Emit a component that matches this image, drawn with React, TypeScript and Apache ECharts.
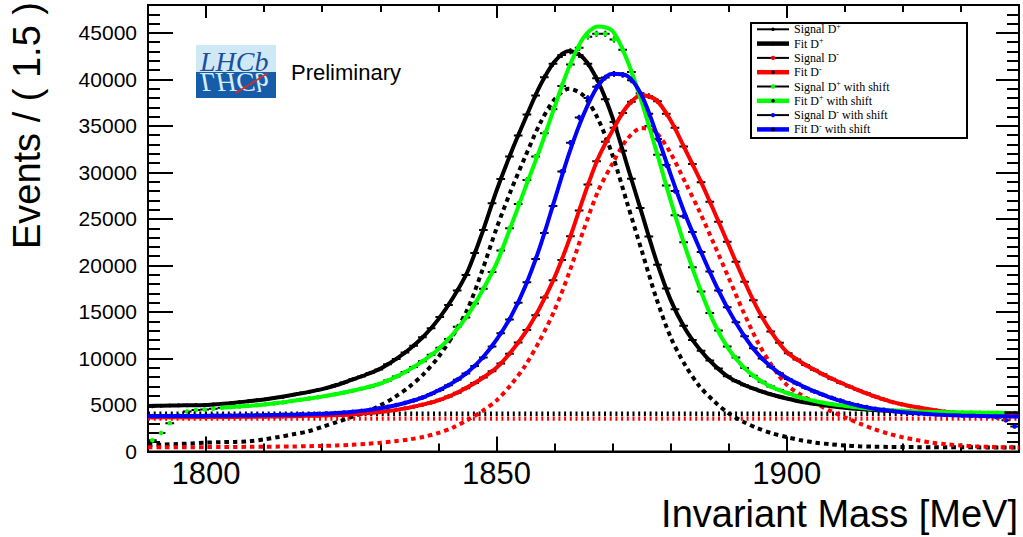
import React, { useEffect, useRef } from 'react';
import * as echarts from 'echarts';

// ---- axis ranges / ticks ----
const massMin = 1790;
const massMax = 1940;
const binWidth = 1.5;
const yMin = 0;
const yMax = 48000;
const xMajorTicks = [1800, 1850, 1900];
const xMinorTicks = [1790, 1800, 1810, 1820, 1830, 1840, 1850, 1860, 1870, 1880, 1890, 1900, 1910, 1920, 1930, 1940];
const yMajorTicks = [0, 5000, 10000, 15000, 20000, 25000, 30000, 35000, 40000, 45000];
const yMinorTicks = Array.from({ length: 49 }, (_, i) => i * 1000);

// ---- fit curves (sampled every 2.5 MeV) ----
const fitMass = [1790, 1792.5, 1795, 1797.5, 1800, 1802.5, 1805, 1807.5, 1810, 1812.5, 1815, 1817.5, 1820, 1822.5, 1825, 1827.5, 1830, 1832.5, 1835, 1837.5, 1840, 1842.5, 1845, 1847.5, 1850, 1852.5, 1855, 1857.5, 1860, 1862.5, 1865, 1867.5, 1870, 1872.5, 1875, 1877.5, 1880, 1882.5, 1885, 1887.5, 1890, 1892.5, 1895, 1897.5, 1900, 1902.5, 1905, 1907.5, 1910, 1912.5, 1915, 1917.5, 1920, 1922.5, 1925, 1927.5, 1930, 1932.5, 1935, 1937.5, 1940];
const fitDplus = [4900, 4920, 4950, 4980, 5000, 5120, 5250, 5420, 5600, 5830, 6100, 6380, 6700, 7150, 7700, 8250, 8900, 9850, 11000, 12400, 14200, 16500, 19300, 23400, 28000, 32100, 35800, 39300, 41900, 43050, 42300, 39800, 35900, 30800, 25700, 20600, 16300, 13200, 11000, 9300, 8000, 7200, 6600, 6100, 5700, 5350, 5100, 4880, 4700, 4560, 4450, 4370, 4300, 4250, 4200, 4170, 4150, 4130, 4120, 4110, 4100];
const sigDplus = [700, 740, 800, 870, 950, 1000, 1030, 1100, 1300, 1560, 1850, 2150, 2650, 3150, 3700, 4250, 4950, 5850, 6950, 8350, 10150, 12450, 15250, 19350, 23950, 28050, 31750, 35250, 37850, 39000, 38250, 35750, 31850, 26750, 21650, 16550, 12300, 9300, 7000, 5400, 4100, 3200, 2500, 1950, 1550, 1200, 950, 780, 650, 560, 520, 490, 480, 470, 460, 455, 450, 445, 440, 435, 430];
const fitDminus = [3680, 3685, 3690, 3695, 3700, 3710, 3720, 3735, 3750, 3770, 3800, 3830, 3870, 3920, 3990, 4100, 4250, 4450, 4720, 5060, 5500, 6100, 6900, 7850, 9000, 10700, 12800, 15500, 18700, 22700, 27300, 31500, 34500, 37100, 38300, 37800, 35600, 32500, 29300, 25800, 22200, 18600, 15300, 12700, 10700, 9600, 8700, 7900, 7200, 6550, 5950, 5450, 5050, 4750, 4480, 4260, 4100, 3990, 3920, 3860, 3820];
const sigDminus = [450, 455, 460, 465, 470, 480, 490, 500, 510, 525, 540, 565, 600, 650, 720, 820, 950, 1100, 1300, 1580, 1990, 2570, 3370, 4320, 5470, 7170, 9270, 11970, 15170, 19170, 23770, 27970, 30970, 33570, 34770, 34270, 32070, 28970, 25770, 22270, 18670, 15070, 11770, 9170, 7170, 6070, 5170, 4370, 3670, 3020, 2420, 1920, 1520, 1220, 950, 780, 650, 560, 500, 460, 440];
const fitDplusShift = [null, null, null, null, null, 4700, 4800, 4920, 5050, 5230, 5450, 5660, 5900, 6180, 6500, 6870, 7300, 7950, 8800, 9800, 11000, 12600, 14600, 17200, 20200, 24200, 28400, 32500, 37000, 41300, 44500, 45700, 45200, 42100, 37600, 32400, 27000, 22000, 17600, 13800, 11000, 9100, 7800, 6900, 6300, 5800, 5400, 5100, 4900, 4700, 4560, 4450, 4370, 4300, 4250, 4220, 4200, 4180, 4160, 4150, null];
const fitDminusShift = [3800, 3805, 3810, 3820, 3830, 3845, 3860, 3880, 3900, 3930, 3960, 4000, 4060, 4140, 4250, 4420, 4650, 4950, 5350, 5850, 6550, 7400, 8500, 10000, 12000, 14500, 17800, 22000, 27000, 32000, 36200, 39300, 40600, 40400, 38300, 34300, 29800, 25500, 21800, 18300, 15200, 12600, 10500, 9000, 7900, 7100, 6400, 5800, 5300, 4900, 4600, 4400, 4230, 4100, 4000, 3930, 3870, 3830, 3800, 3780, 3760];
const bkgDplus = 4060;
const bkgDminus = 3530;

// ---- binned data (100 bins of 1.5 MeV) ----
const dataDplus = [4850, 4930, 4940, 4960, 4950, 4990, 5010, 5050, 5140, 5200, 5310, 5390, 5520, 5610, 5770, 5870, 6060, 6250, 6400, 6620, 6820, 7110, 7410, 7760, 8070, 8450, 8820, 9380, 9940, 10650, 11380, 12270, 13250, 14450, 15760, 17320, 18980, 21330, 23820, 26680, 29300, 31720, 33980, 36230, 38280, 40220, 41680, 42620, 43030, 42620, 41680, 40120, 37880, 35420, 32330, 29320, 26180, 23120, 20080, 17520, 15280, 13520, 11980, 10820, 9790, 8910, 8090, 7560, 7120, 6770, 6440, 6160, 5890, 5670, 5440, 5280, 5110, 5000, 4850, 4760, 4650, 4580, 4490, 4450, 4380, 4360, 4290, 4280, 4240, 4220, 4180, 4180, 4150, 4160, 4130, 4130, 4110, 4120, 4100, 4090];
const dataDminus = [3680, 3685, 3688, 3690, 3693, 3697, 3700, 3705, 3710, 3717, 3724, 3733, 3742, 3752, 3764, 3776, 3797, 3815, 3834, 3856, 3882, 3915, 3952, 3998, 4065, 4140, 4235, 4345, 4470, 4630, 4815, 5025, 5270, 5555, 5910, 6320, 6800, 7370, 7960, 8640, 9470, 10520, 11720, 13050, 14650, 16550, 18400, 20600, 23150, 25900, 28700, 31200, 33300, 34800, 36400, 37600, 38250, 38200, 37650, 36300, 34800, 32800, 30900, 28950, 26850, 24700, 22550, 20400, 18250, 16250, 14450, 12900, 11700, 10550, 9900, 9300, 8780, 8300, 7830, 7400, 7000, 6620, 6250, 5900, 5600, 5300, 5080, 4870, 4720, 4560, 4420, 4290, 4180, 4090, 4020, 3970, 3925, 3890, 3855, 3830];
const dataDplusShift = [1200, 2000, 3050, 3900, 4300, 4450, 4520, 4600, 4700, 4770, 4840, 4910, 4990, 5070, 5170, 5280, 5430, 5550, 5690, 5830, 5980, 6150, 6340, 6530, 6750, 6950, 7250, 7620, 8050, 8550, 9080, 9700, 10400, 11150, 12100, 13400, 14400, 15900, 17500, 19300, 21600, 24000, 26600, 29200, 31700, 34200, 36800, 39300, 41600, 43400, 44600, 44900, 44900, 44300, 43200, 40800, 38100, 35000, 31900, 28600, 25400, 22500, 19800, 17200, 14900, 13000, 11300, 10100, 8980, 8150, 7500, 7000, 6600, 6250, 5950, 5680, 5440, 5240, 5080, 4950, 4840, 4720, 4630, 4550, 4480, 4420, 4380, 4340, 4300, 4270, 4240, 4225, 4210, 4200, 4190, 4175, 4160, 4155, 4150, 4140];
const dataDminusShift = [3800, 3805, 3808, 3810, 3815, 3822, 3830, 3838, 3846, 3856, 3866, 3878, 3890, 3903, 3920, 3940, 3958, 3985, 4015, 4050, 4085, 4130, 4190, 4265, 4360, 4475, 4620, 4790, 4990, 5220, 5490, 5800, 6180, 6620, 7130, 7720, 8380, 9180, 10100, 11300, 12700, 14200, 16000, 18200, 20700, 23500, 26400, 30100, 33200, 35900, 38000, 39200, 40200, 40600, 40500, 39900, 38500, 36300, 33600, 30800, 28000, 25300, 23600, 21450, 19350, 17300, 15500, 13900, 12400, 11100, 10000, 9100, 8400, 7800, 7300, 6850, 6450, 6100, 5780, 5480, 5200, 4970, 4780, 4600, 4480, 4360, 4260, 4170, 4100, 4040, 3990, 3950, 3910, 3870, 3840, 3810, 3780, 3650, 3350, 2700];

// ---- legend ----
const legendRows = [
  { text: '{n|Signal D}{s|+}', line: '#000000', lw: 2, dot: '#000000', r: 1.8 },
  { text: '{n|Fit D}{s|+}', line: '#000000', lw: 4.5, dot: '#000000', r: 1.8 },
  { text: '{n|Signal D}{s|-}', line: '#000000', lw: 2, dot: '#ff0000', r: 2.2 },
  { text: '{n|Fit D}{s|-}', line: '#ff0000', lw: 4.5, dot: '#000000', r: 1.8 },
  { text: '{n|Signal D}{s|+}{n| with shift}', line: '#000000', lw: 2, dot: '#00ff00', r: 2.2 },
  { text: '{n|Fit D}{s|+}{n| with shift}', line: '#00ff00', lw: 4.5, dot: '#000000', r: 1.8 },
  { text: '{n|Signal D}{s|-}{n| with shift}', line: '#000000', lw: 2, dot: '#0000ff', r: 2.2 },
  { text: '{n|Fit D}{s|-}{n| with shift}', line: '#0000ff', lw: 4.5, dot: '#000000', r: 1.8 },
];

const SANS = '"Liberation Sans", Arial, Helvetica, sans-serif';
const SERIF = '"Liberation Serif", "Times New Roman", serif';

function xAxisCfg(position: string, ticks: number[], len: number, labels: boolean) {
  return {
    type: 'value', min: massMin, max: massMax, position, gridIndex: 0,
    axisLine: { show: true, onZero: false, lineStyle: { color: '#000', width: 2 } },
    axisTick: { show: true, inside: true, length: len, customValues: ticks, lineStyle: { color: '#000', width: 2 } },
    axisLabel: labels
      ? { show: true, customValues: xMajorTicks, fontSize: 31, fontFamily: SANS, color: '#000', margin: 6, formatter: (v: number) => String(v) }
      : { show: false },
    splitLine: { show: false },
  };
}

function yAxisCfg(position: string, ticks: number[], len: number, labels: boolean) {
  return {
    type: 'value', min: yMin, max: yMax, position, gridIndex: 0,
    axisLine: { show: true, onZero: false, lineStyle: { color: '#000', width: 2 } },
    axisTick: { show: true, inside: true, length: len, customValues: ticks, lineStyle: { color: '#000', width: 2 } },
    axisLabel: labels
      ? { show: true, customValues: yMajorTicks, fontSize: 21, fontFamily: SANS, color: '#000', margin: 11, formatter: (v: number) => String(v) }
      : { show: false },
    splitLine: { show: false },
  };
}

function lineSeries(name: string, ys: (number | null)[], color: string, width: number, type: any) {
  return {
    type: 'line', name, xAxisIndex: 0, yAxisIndex: 0,
    data: fitMass.map((m, i) => [m, ys[i]]),
    showSymbol: false, symbol: 'none', smooth: 0.3, connectNulls: false, silent: true, clip: true,
    lineStyle: { color, width, type },
  };
}

function flatSeries(name: string, level: number, color: string) {
  return {
    type: 'line', name, xAxisIndex: 0, yAxisIndex: 0,
    data: [[massMin, level], [massMax, level]],
    showSymbol: false, symbol: 'none', silent: true,
    lineStyle: { color, width: 4.3, type: [2, 3.7] },
  };
}

function pointsSeries(name: string, values: number[], dot: string, r: number) {
  return {
    type: 'custom', name, xAxisIndex: 0, yAxisIndex: 0, clip: true, silent: true,
    data: values.map((v, i) => [massMin + (i + 0.5) * binWidth, v]),
    encode: { x: 0, y: 1 },
    renderItem: (_params: any, api: any) => {
      const x = api.value(0);
      const y = api.value(1);
      const c = api.coord([x, y]);
      const l = api.coord([x - binWidth / 2, y]);
      const rr = api.coord([x + binWidth / 2, y]);
      const e = Math.sqrt(Math.max(y, 0));
      const t = api.coord([x, y + e]);
      const b = api.coord([x, y - e]);
      return {
        type: 'group',
        children: [
          { type: 'line', shape: { x1: l[0], y1: l[1], x2: rr[0], y2: rr[1] }, style: { stroke: '#000', lineWidth: 2 } },
          { type: 'line', shape: { x1: t[0], y1: t[1] - 1, x2: b[0], y2: b[1] + 1 }, style: { stroke: '#000', lineWidth: 2 } },
          { type: 'circle', shape: { cx: c[0], cy: c[1], r }, style: { fill: dot } },
        ],
      };
    },
  };
}

function buildOption() {
  const legendEls: any[] = [
    { type: 'rect', shape: { x: 751, y: 23, width: 216, height: 115 }, style: { fill: '#fff', stroke: '#000', lineWidth: 2 }, z: 100 },
  ];
  legendRows.forEach((row, i) => {
    const y = 29.3 + i * 14.3;
    legendEls.push(
      { type: 'line', shape: { x1: 757, y1: y, x2: 789, y2: y }, style: { stroke: row.line, lineWidth: row.lw }, z: 101 },
      { type: 'circle', shape: { cx: 773, cy: y, r: row.r }, style: { fill: row.dot }, z: 102 },
      {
        type: 'text', x: 794, y, z: 102,
        style: {
          text: row.text, fill: '#000', verticalAlign: 'middle', textVerticalAlign: 'middle', align: 'left', textAlign: 'left',
          rich: {
            n: { fontSize: 12, fontFamily: SERIF, lineHeight: 14, fill: '#000' },
            s: { fontSize: 8, fontFamily: SERIF, lineHeight: 8, verticalAlign: 'top', fill: '#000' },
          },
        },
      },
    );
  });

  const logoEls: any[] = [
    { type: 'rect', shape: { x: 196, y: 45, width: 80, height: 27 }, style: { fill: '#cfe8f6' }, z: 50 },
    { type: 'rect', shape: { x: 196, y: 72, width: 80, height: 26 }, style: { fill: '#165ca8' }, z: 50 },
    {
      type: 'text', x: 200, y: 61.5, z: 51,
      style: { text: 'LHCb', fontSize: 28, fontStyle: 'italic', fontFamily: SERIF, fill: '#1c4f9c', verticalAlign: 'middle', textVerticalAlign: 'middle' },
    },
    {
      type: 'text', x: 200, y: 82.5, scaleY: -1, z: 51,
      style: { text: 'LHCb', fontSize: 28, fontStyle: 'italic', fontFamily: SERIF, fill: '#d6ebf8', verticalAlign: 'middle', textVerticalAlign: 'middle' },
    },
    { type: 'line', shape: { x1: 236, y1: 93, x2: 268, y2: 73 }, style: { stroke: '#e02828', lineWidth: 1.5 }, z: 52 },
    {
      type: 'text', x: 291, y: 72, z: 51,
      style: { text: 'Preliminary', fontSize: 22, fontFamily: SANS, fill: '#000', verticalAlign: 'middle', textVerticalAlign: 'middle' },
    },
  ];

  const titleEls: any[] = [
    {
      type: 'text', x: 1018, y: 514,
      style: { text: 'Invariant Mass [MeV]', fontSize: 38, fontFamily: SANS, fill: '#000', align: 'right', textAlign: 'right', verticalAlign: 'middle', textVerticalAlign: 'middle' },
    },
    {
      type: 'text', x: 27, y: 2, rotation: Math.PI / 2,
      style: { text: 'Events / ( 1.5 )', fontSize: 38, fontFamily: SANS, fill: '#000', align: 'right', textAlign: 'right', verticalAlign: 'middle', textVerticalAlign: 'middle' },
    },
  ];

  return {
    animation: false,
    backgroundColor: '#ffffff',
    grid: { left: 148, right: 4, top: 5, bottom: 85.5, show: true, borderColor: '#000', borderWidth: 2, backgroundColor: 'transparent' },
    xAxis: [
      xAxisCfg('bottom', xMajorTicks, 15, true),
      xAxisCfg('bottom', xMinorTicks, 8, false),
      xAxisCfg('top', xMajorTicks, 13, false),
      xAxisCfg('top', xMinorTicks, 7, false),
    ],
    yAxis: [
      yAxisCfg('left', yMajorTicks, 25, true),
      yAxisCfg('left', yMinorTicks, 12, false),
      yAxisCfg('right', yMajorTicks, 23, false),
      yAxisCfg('right', yMinorTicks, 12, false),
    ],
    series: [
      flatSeries('Background D+', bkgDplus, '#000000'),
      flatSeries('Background D-', bkgDminus, '#ff0000'),
      lineSeries('Signal component D+', sigDplus, '#000000', 4, [4.5, 4]),
      lineSeries('Signal component D-', sigDminus, '#ff0000', 4, [4.5, 4]),
      pointsSeries('Signal D+', dataDplus, '#000000', 1.8),
      lineSeries('Fit D+', fitDplus, '#000000', 4, 'solid'),
      pointsSeries('Signal D-', dataDminus, '#ff0000', 2.2),
      lineSeries('Fit D-', fitDminus, '#ff0000', 4, 'solid'),
      pointsSeries('Signal D+ with shift', dataDplusShift, '#00ff00', 2.3),
      lineSeries('Fit D+ with shift', fitDplusShift, '#00ff00', 4, 'solid'),
      pointsSeries('Signal D- with shift', dataDminusShift, '#0000ff', 2.3),
      lineSeries('Fit D- with shift', fitDminusShift, '#0000ff', 4, 'solid'),
    ],
    graphic: { elements: [...logoEls, ...titleEls, ...legendEls] },
  };
}

export default function App() {
  const ref = useRef<HTMLDivElement>(null);
  useEffect(() => {
    if (!ref.current) return;
    const chart = echarts.init(ref.current, null, { renderer: 'svg', width: 1023, height: 537 });
    chart.setOption(buildOption() as any);
    return () => chart.dispose();
  }, []);
  return (
    <div
      ref={ref}
      style={{ position: 'fixed', left: 0, top: 0, width: 1023, height: 537, background: '#fff' }}
    />
  );
}
